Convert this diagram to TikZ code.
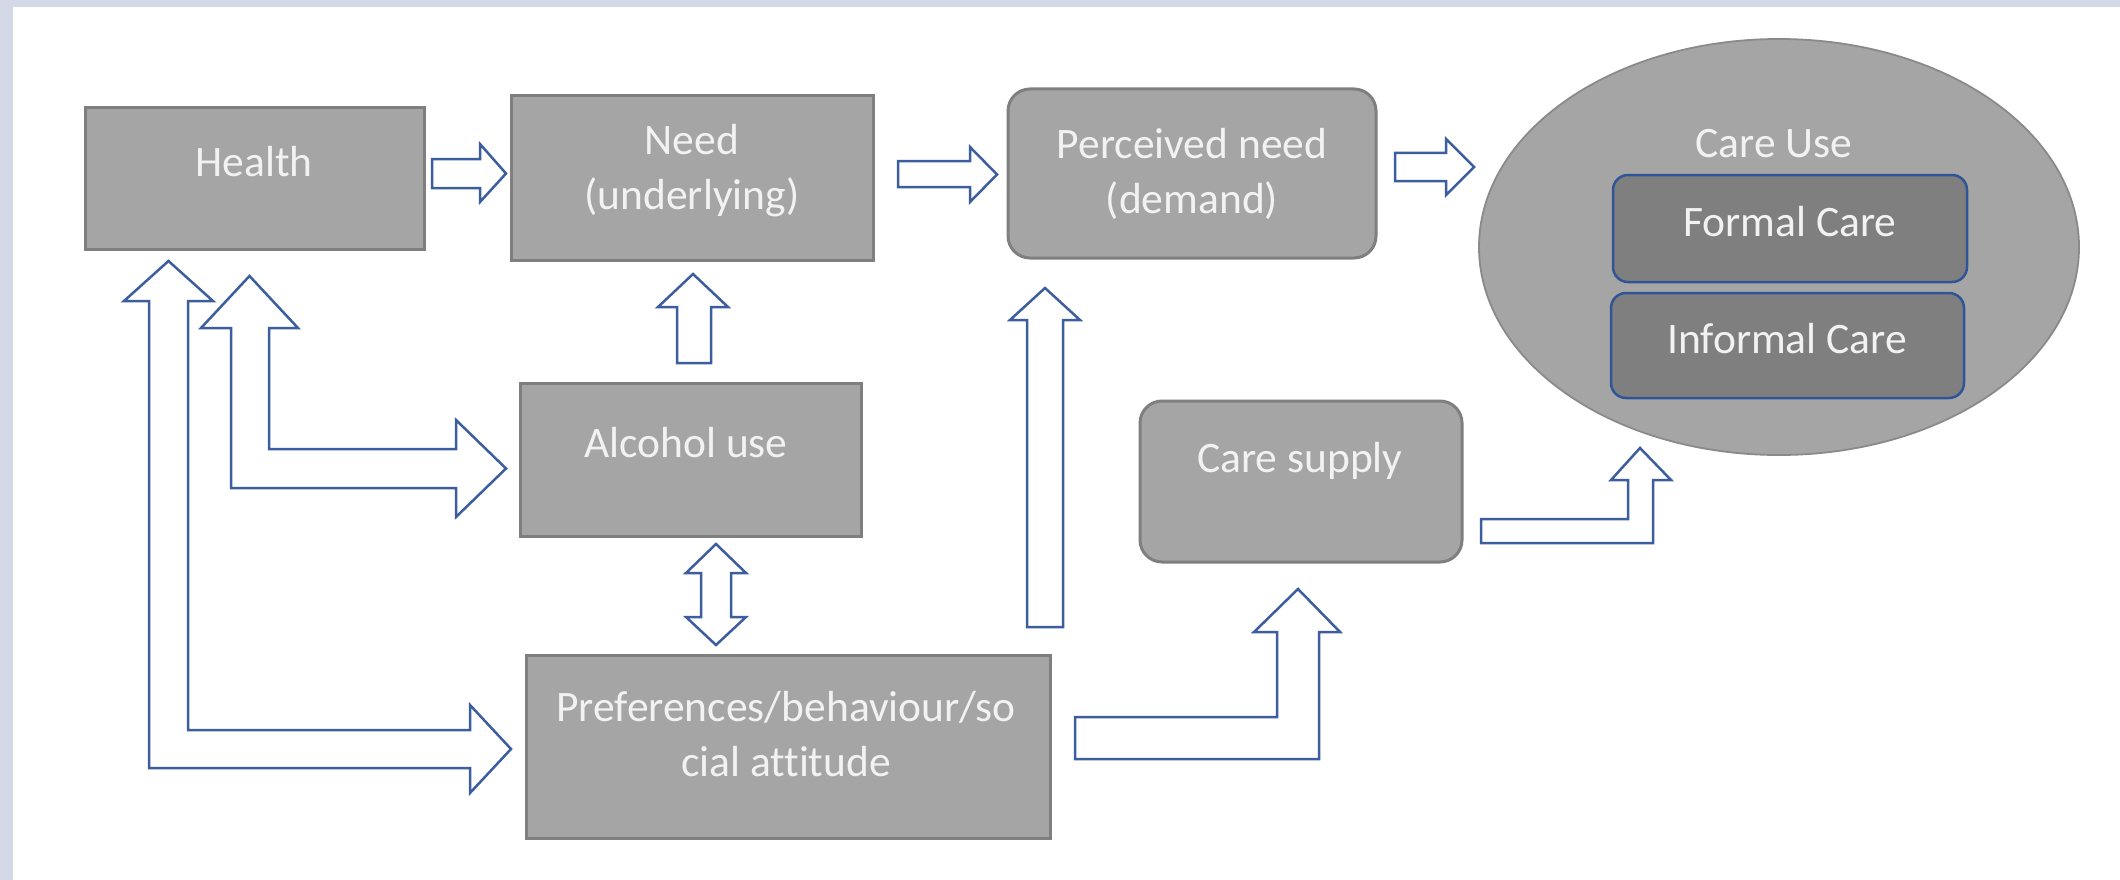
\documentclass[tikz,border=0pt]{standalone}
\usepackage{fontspec}
\setmainfont[Ligatures=NoCommon]{Carlito}
\usetikzlibrary{shapes.geometric}
\definecolor{bgstrip}{HTML}{D3D9E6}
\definecolor{boxfill}{HTML}{A5A5A5}
\definecolor{boxline}{HTML}{7F7F7F}
\definecolor{ellline}{HTML}{8A8A8A}
\definecolor{darkfill}{HTML}{7F7F7F}
\definecolor{innerline}{HTML}{2F5597}
\definecolor{arrowblue}{HTML}{3D5E9E}
\definecolor{txtcol}{HTML}{F2F2F2}
\tikzset{
  box/.style={draw=boxline, fill=boxfill, line width=3pt, inner sep=0pt},
  rbox/.style={box, rounded corners=22pt},
  inbox/.style={draw=innerline, fill=darkfill, line width=2.5pt, rounded corners=15pt, inner sep=0pt},
  lbl/.style={text=txtcol, font=\fontsize{43.5}{55}\selectfont, align=center, inner sep=0pt},
  blk/.style={draw=arrowblue, fill=white, line width=2.5pt, line join=miter},
}
\begin{document}
\begin{tikzpicture}[x=1pt,y=-1pt]
\useasboundingbox (0,0) rectangle (2120,880);
\fill[bgstrip] (0,0) rectangle (2120,880);
\fill[white] (13,7) rectangle (2120,880);

% boxes
\node[box, minimum width=339pt, minimum height=141pt] (health) at (254.5,178.5) {};
\node[box, minimum width=362pt, minimum height=164pt] (need) at (692,178) {};
\node[rbox, minimum width=368pt, minimum height=169pt] (perc) at (1192,173.5) {};
\node[box, minimum width=341pt, minimum height=153pt] (alc) at (690.5,459.5) {};
\node[box, minimum width=524pt, minimum height=183pt] (pref) at (788,747) {};
\node[rbox, minimum width=322pt, minimum height=161pt] (supply) at (1301,481.5) {};
\node[ellipse, draw=ellline, fill=boxfill, line width=1.8pt, minimum width=600pt, minimum height=416pt, inner sep=0pt] (careuse) at (1779,247) {};
\node[inbox, minimum width=354pt, minimum height=107pt] (formal) at (1790,228.5) {};
\node[inbox, minimum width=353pt, minimum height=105pt] (informal) at (1787.5,345.5) {};

% labels
\node[lbl] (healthT) at (254,162) {Health};
\node[lbl] (needT) at (692,171) {Need\\(underlying)};
\node[lbl] (percT) at (1192,174) {Perceived need\\(demand)};
\node[lbl] (alcT) at (686,443) {Alcohol use};
\node[lbl] (prefT) at (786,734) {Preferences/behaviour/so\\cial attitude};
\node[lbl] (supplyT) at (1300,461) {Care supply};
\node[lbl] (careuseT) at (1774,144) {Care Use};
\node[lbl] (formalT) at (1790,222) {Formal Care};
\node[lbl] (informalT) at (1787,339) {Informal Care};

% block arrows
% Health -> Need
\draw[blk] (432,159) -- (480,159) -- (480,144) -- (506,173.5) -- (480,202) -- (480,188) -- (432,188) -- cycle;
% Need -> Perceived need
\draw[blk] (898,161) -- (970,161) -- (970,147) -- (997,174.5) -- (970,202) -- (970,187) -- (898,187) -- cycle;
% Perceived need -> Care Use
\draw[blk] (1395,153) -- (1446,153) -- (1446,139) -- (1474,167) -- (1446,195) -- (1446,181) -- (1395,181) -- cycle;
% Alcohol use -> Need
\draw[blk] (677,363) -- (677,307) -- (658,307) -- (693,274) -- (728,307) -- (711,307) -- (711,363) -- cycle;
% Alcohol use <-> Preferences
\draw[blk] (716,544) -- (746,573) -- (731,573) -- (731,617) -- (746,617) -- (716,645) -- (686,617) -- (701,617) -- (701,573) -- (686,573) -- cycle;
% Preferences -> Perceived need
\draw[blk] (1027,627) -- (1027,320) -- (1010,320) -- (1045,288) -- (1080,320) -- (1063,320) -- (1063,627) -- cycle;
% Preferences -> Care supply
\draw[blk] (1075,717) -- (1277,717) -- (1277,632) -- (1254,632) -- (1298,589) -- (1340,632) -- (1319,632) -- (1319,759) -- (1075,759) -- cycle;
% Care supply -> Care Use
\draw[blk] (1481,519) -- (1628,519) -- (1628,480) -- (1611,480) -- (1640,448) -- (1671,480) -- (1653,480) -- (1653,543) -- (1481,543) -- cycle;
% Health <-> Alcohol use
\draw[blk] (231,488) -- (231,328) -- (201,328) -- (249.5,276) -- (298,328) -- (269,328) -- (269,449) -- (456,449) -- (456,420) -- (506,468.5) -- (456,517) -- (456,488) -- cycle;
% Health <-> Preferences
\draw[blk] (149,768) -- (149,301) -- (124,301) -- (168.5,261) -- (213,301) -- (188,301) -- (188,730) -- (470,730) -- (470,705) -- (511,749) -- (470,793) -- (470,768) -- cycle;
\end{tikzpicture}
\end{document}
